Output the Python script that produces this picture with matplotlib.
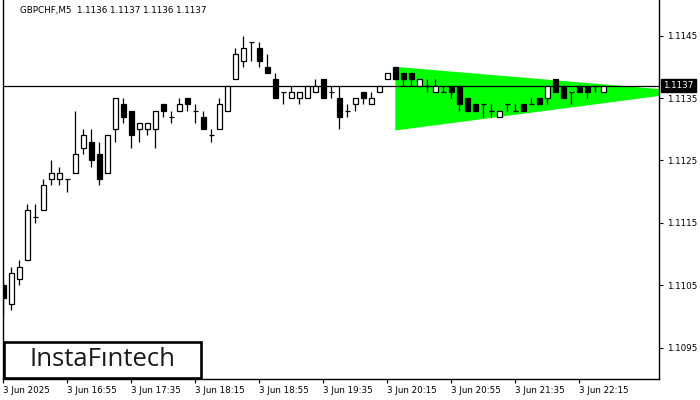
import matplotlib
matplotlib.use("Agg")
import matplotlib.pyplot as plt
from matplotlib.patches import Rectangle

# GBPCHF M5 candles (open, high, low, close)
opens = [1.11050, 1.11020, 1.11060, 1.11090, 1.11160, 1.11170, 1.11220, 1.11220, 1.11220, 1.11230,
         1.11270, 1.11280, 1.11260, 1.11230, 1.11300, 1.11340, 1.11330, 1.11300, 1.11300, 1.11300,
         1.11340, 1.11320, 1.11330, 1.11350, 1.11330, 1.11320, 1.11290, 1.11300, 1.11330, 1.11380,
         1.11410, 1.11440, 1.11430, 1.11400, 1.11380, 1.11360, 1.11350, 1.11350, 1.11350, 1.11360,
         1.11380, 1.11360, 1.11350, 1.11330, 1.11340, 1.11360, 1.11340, 1.11360, 1.11380, 1.11400,
         1.11390, 1.11390, 1.11370, 1.11370, 1.11360, 1.11360, 1.11370, 1.11370, 1.11350, 1.11340,
         1.11340, 1.11330, 1.11320, 1.11340, 1.11330, 1.11340, 1.11340, 1.11350, 1.11350, 1.11380,
         1.11370, 1.11360, 1.11370, 1.11370, 1.11370, 1.11360]
highs = [1.11055, 1.11080, 1.11090, 1.11180, 1.11180, 1.11220, 1.11250, 1.11240, 1.11220, 1.11330,
         1.11300, 1.11300, 1.11280, 1.11290, 1.11350, 1.11350, 1.11330, 1.11310, 1.11310, 1.11330,
         1.11340, 1.11330, 1.11350, 1.11350, 1.11340, 1.11330, 1.11300, 1.11350, 1.11370, 1.11430,
         1.11450, 1.11440, 1.11440, 1.11420, 1.11390, 1.11360, 1.11370, 1.11360, 1.11370, 1.11380,
         1.11380, 1.11370, 1.11370, 1.11340, 1.11350, 1.11360, 1.11360, 1.11370, 1.11390, 1.11400,
         1.11390, 1.11390, 1.11380, 1.11380, 1.11380, 1.11370, 1.11370, 1.11370, 1.11350, 1.11340,
         1.11340, 1.11340, 1.11330, 1.11340, 1.11340, 1.11340, 1.11350, 1.11350, 1.11370, 1.11380,
         1.11370, 1.11360, 1.11370, 1.11370, 1.11370, 1.11370]
lows = [1.11000, 1.11010, 1.11050, 1.11090, 1.11150, 1.11170, 1.11210, 1.11210, 1.11200, 1.11230,
        1.11260, 1.11240, 1.11210, 1.11230, 1.11280, 1.11310, 1.11270, 1.11280, 1.11290, 1.11270,
        1.11320, 1.11310, 1.11330, 1.11330, 1.11310, 1.11300, 1.11280, 1.11300, 1.11330, 1.11380,
        1.11400, 1.11410, 1.11400, 1.11390, 1.11350, 1.11340, 1.11350, 1.11340, 1.11350, 1.11360,
        1.11350, 1.11350, 1.11300, 1.11320, 1.11330, 1.11340, 1.11340, 1.11360, 1.11380, 1.11380,
        1.11370, 1.11370, 1.11370, 1.11360, 1.11360, 1.11360, 1.11350, 1.11330, 1.11330, 1.11330,
        1.11320, 1.11320, 1.11320, 1.11330, 1.11330, 1.11330, 1.11340, 1.11340, 1.11340, 1.11360,
        1.11350, 1.11340, 1.11360, 1.11350, 1.11360, 1.11360]
closes = [1.11030, 1.11070, 1.11080, 1.11170, 1.11160, 1.11210, 1.11230, 1.11230, 1.11220, 1.11260,
          1.11290, 1.11250, 1.11220, 1.11290, 1.11350, 1.11320, 1.11290, 1.11310, 1.11310, 1.11330,
          1.11330, 1.11320, 1.11340, 1.11340, 1.11330, 1.11300, 1.11290, 1.11340, 1.11370, 1.11420,
          1.11430, 1.11440, 1.11410, 1.11390, 1.11350, 1.11360, 1.11360, 1.11360, 1.11370, 1.11370,
          1.11350, 1.11360, 1.11320, 1.11330, 1.11350, 1.11350, 1.11350, 1.11370, 1.11390, 1.11380,
          1.11380, 1.11380, 1.11380, 1.11370, 1.11370, 1.11360, 1.11360, 1.11340, 1.11330, 1.11330,
          1.11340, 1.11330, 1.11330, 1.11340, 1.11330, 1.11330, 1.11340, 1.11340, 1.11370, 1.11360,
          1.11350, 1.11360, 1.11360, 1.11360, 1.11370, 1.11370]

time_ticks = [0, 8, 16, 24, 32, 40, 48, 56, 64, 72]
time_labels = ["3 Jun 2025", "3 Jun 16:55", "3 Jun 17:35", "3 Jun 18:15", "3 Jun 18:55",
               "3 Jun 19:35", "3 Jun 20:15", "3 Jun 20:55", "3 Jun 21:35", "3 Jun 22:15"]
price_ticks = [1.1095, 1.1105, 1.1115, 1.1125, 1.1135, 1.1145]

# symmetric triangle pattern (bar index -> upper / lower boundary)
tri_x = [49, 86]
tri_upper = [1.11400, 1.11360]
tri_lower = [1.11298, 1.11360]

last_price = 1.1137
title = "GBPCHF,M5  1.1136 1.1137 1.1136 1.1137"

fig = plt.figure(figsize=(7, 4), dpi=100)
ax = fig.add_axes([2.5 / 700, 21 / 400, 656.5 / 700, 379 / 400])

ax.fill([tri_x[0], tri_x[1], tri_x[1], tri_x[0]],
        [tri_upper[0], tri_upper[1], tri_lower[1], tri_lower[0]],
        color="#00ff00", lw=0, zorder=1)

ax.axhline(last_price, color="black", lw=0.9, zorder=2)

w = 0.55
for i, (o, h, l, c) in enumerate(zip(opens, highs, lows, closes)):
    ax.vlines(i, l, h, color="black", lw=0.9, zorder=3)
    if abs(c - o) < 1e-7:
        ax.hlines(o, i - 0.35, i + 0.35, color="black", lw=0.9, zorder=4)
    else:
        face = "white" if c > o else "black"
        ax.add_patch(Rectangle((i - w / 2, min(o, c)), w, abs(c - o),
                               facecolor=face, edgecolor="black", lw=0.9, zorder=4))

ax.set_xlim(-0.1, 81.96)
ax.set_ylim(1.10900, 1.11507)

ax.yaxis.tick_right()
ax.set_yticks(price_ticks)
ax.set_yticklabels([f"{p:.4f}" for p in price_ticks])
ax.set_xticks(time_ticks)
ax.set_xticklabels(time_labels, ha="left")
ax.tick_params(axis="both", direction="out", length=3, width=0.8, labelsize=6.3, colors="black")
ax.tick_params(axis="y", pad=3)
ax.tick_params(axis="x", pad=2)
ax.spines["top"].set_visible(False)
for s in ["left", "right", "bottom"]:
    ax.spines[s].set_linewidth(1.0)

ax.annotate(f"{last_price:.4f}", xy=(1.0, last_price), xycoords=("axes fraction", "data"),
            xytext=(3, 0), textcoords="offset points", va="center", ha="left",
            fontsize=6.3, color="white",
            bbox=dict(boxstyle="square,pad=0.25", fc="black", ec="black"))

ax.text(18 / 656.5, 1 - 10 / 379, title, transform=ax.transAxes, fontsize=6.3,
        va="center", ha="left", color="black")

# logo box
fig.patches.append(Rectangle((3.5 / 700, 22.5 / 400), 197 / 700, 36 / 400,
                             transform=fig.transFigure, fill=False, ec="black", lw=1.9))
fig.text(102 / 700, (400 - 360) / 400, "InstaF\u0131ntech", fontsize=18.5,
         ha="center", va="center", color="#1a1a1a", family="Open Sans", weight="medium")

fig.savefig("out.png", dpi=100)
